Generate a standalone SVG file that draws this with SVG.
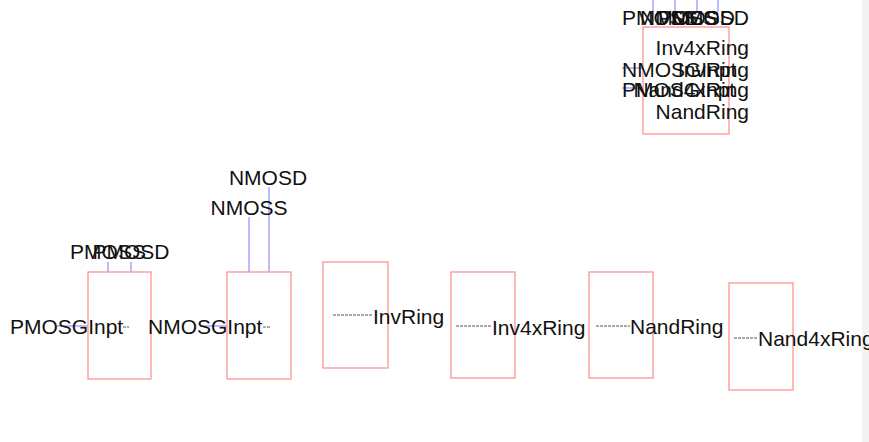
<svg xmlns="http://www.w3.org/2000/svg" width="869" height="442" viewBox="0 0 869 442">
<style>
.box{fill:none;stroke:#ff8a8a;stroke-width:1.2}
.lbl{font-family:"Liberation Sans",Arial,sans-serif;font-size:21px;fill:#111}
.wire{stroke:#8c8cff;stroke-width:1.2;fill:none}
.stub{stroke:#aaaaaa;stroke-width:2;stroke-dasharray:3 1;fill:none}
.mid{text-anchor:middle}
.end{text-anchor:end}
</style>
<rect x="0" y="0" width="869" height="442" fill="#ffffff"/>
<rect x="862" y="0" width="7" height="442" fill="#f3f3f3"/>
<g id="connectors">
  <line class="wire" x1="108" y1="262" x2="108" y2="272"/>
  <line class="wire" x1="131" y1="262" x2="131" y2="272"/>
  <line class="wire" x1="249" y1="217" x2="249" y2="272"/>
  <line class="wire" x1="269" y1="187" x2="269" y2="272"/>
  <line class="wire" x1="57" y1="326" x2="88" y2="326"/>
  <line class="wire" x1="200" y1="326" x2="227" y2="326"/>
  <line class="stub" x1="123" y1="327" x2="129" y2="327"/>
  <line class="stub" x1="263" y1="327" x2="270" y2="327"/>
  <line class="stub" x1="333" y1="315" x2="372" y2="315"/>
  <line class="stub" x1="456" y1="326" x2="492" y2="326"/>
  <line class="stub" x1="596" y1="326" x2="630" y2="326"/>
  <line class="stub" x1="734" y1="338" x2="758" y2="338"/>
  <line class="wire" x1="653" y1="0" x2="653" y2="12"/>
  <line class="wire" x1="675" y1="0" x2="675" y2="12"/>
  <line class="wire" x1="697" y1="0" x2="697" y2="12"/>
  <line class="wire" x1="718" y1="0" x2="718" y2="12"/>
  <line class="wire" x1="622" y1="68" x2="643" y2="68"/>
  <line class="wire" x1="622" y1="88" x2="643" y2="88"/>
</g>
<g id="pmos">
  <rect class="box" x="88" y="272" width="63" height="107"/>
  <text class="lbl" x="10" y="334">PMOSGInpt</text>
  <text class="lbl mid" x="108" y="259">PMOSS</text>
  <text class="lbl mid" x="131" y="259">PMOSD</text>
</g>
<g id="nmos">
  <rect class="box" x="227" y="272" width="64" height="107"/>
  <text class="lbl" x="148" y="334">NMOSGInpt</text>
  <text class="lbl mid" x="249" y="215">NMOSS</text>
  <text class="lbl mid" x="268" y="185">NMOSD</text>
</g>
<g id="invring">
  <rect class="box" x="323" y="262" width="65" height="106"/>
  <text class="lbl" x="373" y="324">InvRing</text>
</g>
<g id="inv4xring">
  <rect class="box" x="451" y="272" width="64" height="106"/>
  <text class="lbl" x="492" y="335">Inv4xRing</text>
</g>
<g id="nandring">
  <rect class="box" x="589" y="272" width="64" height="106"/>
  <text class="lbl" x="630" y="334">NandRing</text>
</g>
<g id="nand4xring">
  <rect class="box" x="729" y="283" width="64" height="107"/>
  <text class="lbl" x="758" y="346">Nand4xRing</text>
</g>
<g id="collapsed">
  <rect class="box" x="643" y="27" width="86" height="107"/>
  <text class="lbl" x="622" y="25">PMOSS</text>
  <text class="lbl" x="640" y="25">NMOSS</text>
  <text class="lbl" x="658" y="25">PMOSD</text>
  <text class="lbl end" x="749" y="25">NMOSD</text>
  <text class="lbl end" x="749" y="55">Inv4xRing</text>
  <text class="lbl" x="622" y="77">NMOSGInpt</text>
  <text class="lbl end" x="749" y="77">InvRing</text>
  <text class="lbl" x="622" y="97">PMOSGInpt</text>
  <text class="lbl end" x="749" y="97">Nand4xRing</text>
  <text class="lbl end" x="749" y="119">NandRing</text>
</g>
</svg>
